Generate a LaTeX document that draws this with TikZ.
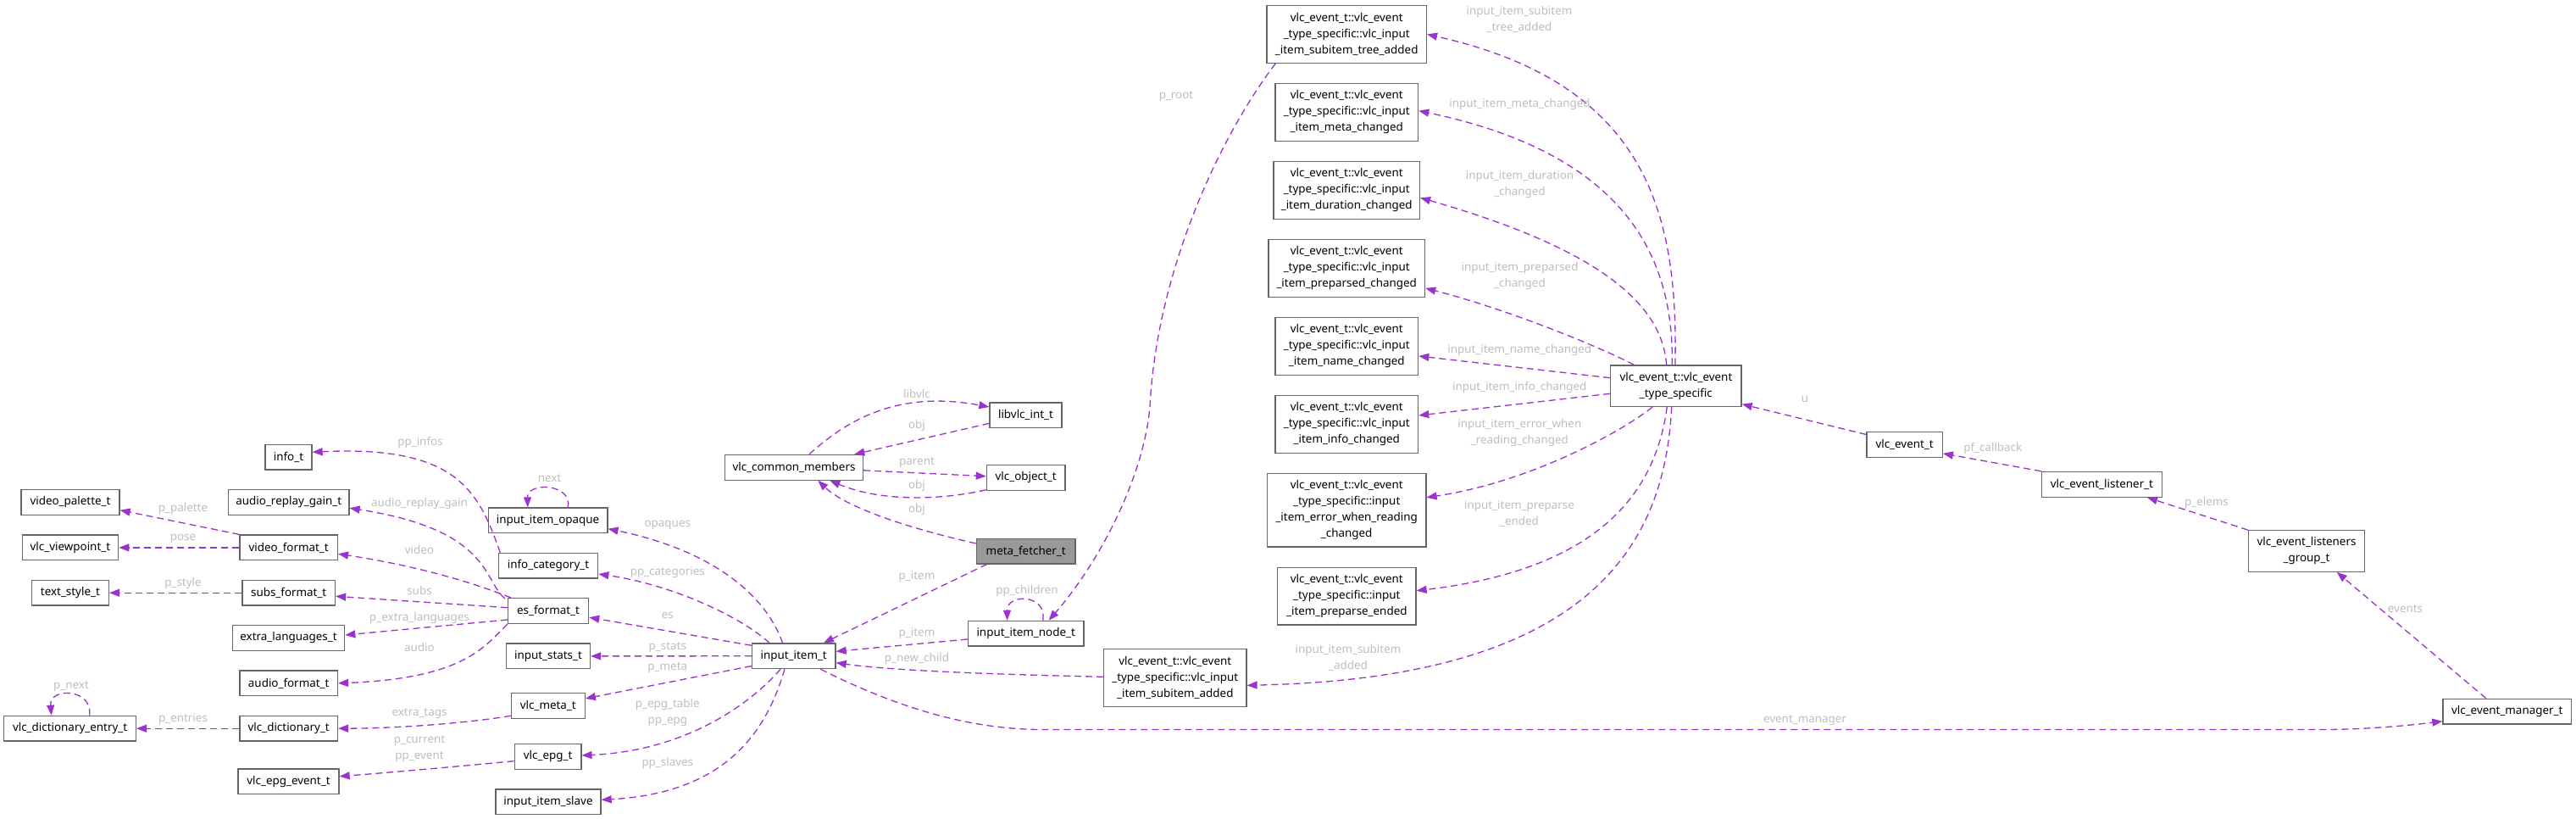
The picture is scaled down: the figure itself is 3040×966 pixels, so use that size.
\documentclass[tikz,border=0pt]{standalone}
\usepackage{fontspec}
\setmainfont{Noto Sans}
\usetikzlibrary{arrows.meta}
\definecolor{edgec}{RGB}{154,50,205}
\definecolor{bordc}{RGB}{102,102,102}
\definecolor{lblc}{RGB}{190,190,190}
\definecolor{hilite}{RGB}{153,153,153}
\tikzset{
  cls/.style={draw=bordc, line width=1.3pt, fill=white, inner sep=0pt, align=center,
    font=\fontsize{13.4}{19}\selectfont, text=black, minimum height=29.7pt},
  two/.style={minimum height=48.4pt},
  three/.style={minimum height=67.7pt},
  four/.style={minimum height=86.3pt},
  lbl/.style={text=lblc, inner sep=0pt, align=center, font=\fontsize{13.4}{19}\selectfont},
  conn/.style={draw=edgec, line width=1.3pt, dash pattern=on 8pt off 5pt,
    -{Triangle[length=12pt,width=9pt]}}
}
\begin{document}
\begin{tikzpicture}[x=1pt,y=-1pt]
\fill[white] (0,0) rectangle (3040,966);
\useasboundingbox (0,0) rectangle (3040,966);

% ---------- nodes ----------
\node[cls, minimum width=55pt] (it_info) at (340.5,539) {info\_t};
\node[cls, minimum width=116pt] (vpal) at (83,592.5) {video\_palette\_t};
\node[cls, minimum width=142.5pt] (arg) at (340.75,592.5) {audio\_replay\_gain\_t};
\node[cls, minimum width=140.6pt] (iio) at (646.6,613.9) {input\_item\_opaque};
\node[cls, minimum width=113.4pt] (vvp) at (82.9,645.9) {vlc\_viewpoint\_t};
\node[cls, minimum width=115.4pt] (vfmt) at (340.7,645.9) {video\_format\_t};
\node[cls, minimum width=117.3pt] (icat) at (647,667.2) {info\_category\_t};
\node[cls, minimum width=91pt] (tsty) at (82.9,699.2) {text\_style\_t};
\node[cls, minimum width=109.5pt] (sfmt) at (340.7,699.2) {subs\_format\_t};
\node[cls, minimum width=95pt] (esf) at (647.1,720.5) {es\_format\_t};
\node[cls, minimum width=132.4pt] (xlang) at (340.5,752.5) {extra\_languages\_t};
\node[cls, minimum width=99pt] (ist) at (647,773.9) {input\_stats\_t};
\node[cls, minimum width=115.4pt] (afmt) at (340.7,805.9) {audio\_format\_t};
\node[cls, minimum width=86.8pt] (vmeta) at (646.8,832.5) {vlc\_meta\_t};
\node[cls, minimum width=155.6pt] (vde) at (82.6,859.2) {vlc\_dictionary\_entry\_t};
\node[cls, minimum width=115.4pt] (vdict) at (340.7,859.2) {vlc\_dictionary\_t};
\node[cls, minimum width=78.6pt] (vepg) at (646.6,892.5) {vlc\_epg\_t};
\node[cls, minimum width=119pt] (vepge) at (340.5,921.9) {vlc\_epg\_event\_t};
\node[cls, minimum width=124pt] (iislave) at (647,945.9) {input\_item\_slave};
\node[cls, minimum width=163pt] (vcm) at (937,551.3) {vlc\_common\_members};
\node[cls, minimum width=85pt] (lvi) at (1210.5,489.7) {libvlc\_int\_t};
\node[cls, minimum width=92.6pt] (vobj) at (1210.7,563.3) {vlc\_object\_t};
\node[cls, fill=hilite, minimum width=116.7pt] (mf) at (1210.7,650) {meta\_fetcher\_t};
\node[cls, minimum width=136.5pt] (iin) at (1210.7,747.2) {input\_item\_node\_t};
\node[cls, minimum width=98.6pt] (ii) at (936.7,773.8) {input\_item\_t};
\node[cls, three, minimum width=168.3pt] (esa) at (1386.8,799.4) {vlc\_event\_t::vlc\_event\\\_type\_specific::vlc\_input\\\_item\_subitem\_added};
\node[cls, three, minimum width=188.5pt] (esta) at (1589.2,40.5) {vlc\_event\_t::vlc\_event\\\_type\_specific::vlc\_input\\\_item\_subitem\_tree\_added};
\node[cls, three, minimum width=168.6pt] (emc) at (1589.3,132.5) {vlc\_event\_t::vlc\_event\\\_type\_specific::vlc\_input\\\_item\_meta\_changed};
\node[cls, three, minimum width=172.4pt] (edc) at (1589.2,224.5) {vlc\_event\_t::vlc\_event\\\_type\_specific::vlc\_input\\\_item\_duration\_changed};
\node[cls, three, minimum width=184.7pt] (epc) at (1589.2,316.5) {vlc\_event\_t::vlc\_event\\\_type\_specific::vlc\_input\\\_item\_preparsed\_changed};
\node[cls, three, minimum width=168.6pt] (enc) at (1589.3,408.5) {vlc\_event\_t::vlc\_event\\\_type\_specific::vlc\_input\\\_item\_name\_changed};
\node[cls, three, minimum width=168.6pt] (eic) at (1589.3,500.3) {vlc\_event\_t::vlc\_event\\\_type\_specific::vlc\_input\\\_item\_info\_changed};
\node[cls, four, minimum width=187.5pt] (eerr) at (1589.2,601.8) {vlc\_event\_t::vlc\_event\\\_type\_specific::input\\\_item\_error\_when\_reading\\\_changed};
\node[cls, three, minimum width=163.4pt] (epe) at (1589.3,703.2) {vlc\_event\_t::vlc\_event\\\_type\_specific::input\\\_item\_preparse\_ended};
\node[cls, two, minimum width=154.3pt] (ets) at (1977.9,455.2) {vlc\_event\_t::vlc\_event\\\_type\_specific};
\node[cls, minimum width=89.3pt] (vev) at (2247.6,524.5) {vlc\_event\_t};
\node[cls, minimum width=141.8pt] (vel) at (2480.4,571.3) {vlc\_event\_listener\_t};
\node[cls, two, minimum width=137pt] (velg) at (2722,650) {vlc\_event\_listeners\\\_group\_t};
\node[cls, minimum width=151.5pt] (vem) at (2958.7,839.1) {vlc\_event\_manager\_t};

% ---------- edges ----------
\draw[conn] ([xshift=2.6pt]icat.north west) .. controls (565,580) and (540,525) .. ([yshift=5.7pt]it_info.east);
\draw[conn] (vfmt.north west) -- ([yshift=-9.2pt]vpal.east);
\draw[conn] ([xshift=-3pt,yshift=-1pt]esf.north west) .. controls (570,685) and (580,625) .. ([yshift=-6.8pt]arg.east);
\draw[conn] (vfmt) -- (vvp);
\draw[conn] ([xshift=4pt]esf.north west) .. controls (540,680) and (470,664) .. ([yshift=-7.4pt]vfmt.east);
\draw[conn] (sfmt) -- (tsty);
\draw[conn] ([yshift=3.8pt]esf.west) -- ([yshift=-4.1pt]sfmt.east);
\draw[conn] ([yshift=-10.5pt]esf.west) -- ([yshift=3.5pt]xlang.east);
\draw[conn] (esf.south west) .. controls (570,765) and (545,800) .. (afmt.east);
\draw[conn] ([xshift=23pt]vde.north) .. controls (110,812) and (58,810) .. ([xshift=-22pt]vde.north);
\draw[conn] (vdict) -- (vde);
\draw[conn] ([yshift=-11.8pt]vmeta.west) .. controls (550,853) and (470,859) .. (vdict.east);
\draw[conn] ([yshift=-5.2pt]vepg.west) .. controls (540,904) and (450,912) .. ([yshift=6.2pt]vepge.east);
\draw[conn] ([xshift=23.7pt]iio.north) .. controls (676,570) and (622,568) .. ([xshift=-23.8pt]iio.north);
\draw[conn] ([xshift=-13.2pt]ii.north) .. controls (905,705) and (845,650) .. ([yshift=-9.8pt]iio.east);
\draw[conn] ([xshift=-28.7pt]ii.north) .. controls (875,728) and (795,690) .. ([yshift=-9.8pt]icat.east);
\draw[conn] ([yshift=-3pt]ii.north west) -- ([yshift=-7.7pt]esf.east);
\draw[conn] (ii) -- (ist);
\draw[conn] ([yshift=-11.8pt]ii.west) -- ([yshift=8.6pt]vmeta.east);
\draw[conn] ([xshift=-15.7pt]ii.south) .. controls (895,820) and (820,885) .. ([yshift=1.5pt]vepg.east);
\draw[conn] ([xshift=-10.7pt]ii.south) .. controls (905,860) and (860,935) .. ([yshift=2.5pt]iislave.east);
\draw[conn] ([xshift=18pt]vcm.north) .. controls (1000,495) and (1060,460) .. ([yshift=9.7pt]lvi.west);
\draw[conn] ([yshift=-9.7pt]lvi.west) -- ([xshift=71.3pt]vcm.north);
\draw[conn] ([yshift=-3.5pt]vcm.east) -- ([yshift=1.6pt]vobj.west);
\draw[conn] ([yshift=1pt]vobj.south west) .. controls (1110,590) and (1040,592) .. ([xshift=42.3pt]vcm.south);
\draw[conn] ([yshift=9pt]mf.west) .. controls (1080,625) and (1000,600) .. ([xshift=28.3pt]vcm.south);
\draw[conn] ([xshift=-46pt]mf.south) -- ([xshift=35.3pt]ii.north);
\draw[conn] ([xshift=20pt]iin.north) .. controls (1236,700) and (1188,700) .. ([xshift=-22pt]iin.north);
\draw[conn] ([yshift=-6.8pt]iin.west) -- ([yshift=5.5pt]ii.east);
\draw[conn] ([yshift=1.1pt]esa.west) .. controls (1200,796) and (1060,792) .. ([yshift=-7.9pt]ii.east);
\draw[conn] ([xshift=31.6pt]ii.south) .. controls (1040,825) and (1130,860.5) .. (1230,860.5) -- (2740,860.5) .. controls (2790,860.5) and (2840,856) .. ([yshift=-11.6pt]vem.west);
\draw[conn] ([xshift=11pt]esta.south west) .. controls (1440,160) and (1365,320) .. (1357,480) .. controls (1350,560) and (1300,660) .. ([xshift=27pt]iin.north);
\draw[conn] ([xshift=-1pt]ets.north) .. controls (1980,260) and (1950,100) .. (esta.east);
\draw[conn] ([xshift=-4.6pt]ets.north) .. controls (1975,320) and (1935,185) .. ([yshift=1.8pt]emc.east);
\draw[conn] ([xshift=-11.2pt]ets.north) .. controls (1962,370) and (1910,300) .. ([yshift=-8.8pt]edc.east);
\draw[conn] ([xshift=-49.6pt]ets.north) .. controls (1890,410) and (1780,365) .. ([yshift=-23.5pt]epc.east);
\draw[conn] ([yshift=9.5pt]ets.west) -- ([yshift=-11.5pt]enc.east);
\draw[conn] ([yshift=-9.1pt]ets.west) -- ([yshift=10.3pt]eic.east);
\draw[conn] ([xshift=-27.9pt]ets.south) .. controls (1920,505) and (1810,568) .. ([yshift=15.1pt]eerr.east);
\draw[conn] ([xshift=-10.6pt]ets.south) .. controls (1955,570) and (1900,670) .. ([yshift=6.5pt]epe.east);
\draw[conn] ([xshift=-5.2pt]ets.south) .. controls (1965,640) and (1880,800) .. ([yshift=-8.9pt]esa.east);
\draw[conn] ([yshift=12pt]vev.west) -- ([yshift=-21.5pt]ets.east);
\draw[conn] (vel.north west) -- ([yshift=-10.4pt]vev.east);
\draw[conn] (velg.north west) -- ([xshift=53.6pt]vel.south);
\draw[conn] ([xshift=-25pt]vem.north) -- ([xshift=35.8pt]velg.south);

% ---------- labels ----------
\node[lbl] (l1) at (496,521.7) {pp\_infos};
\node[lbl] (l2) at (648.5,564) {next};
\node[lbl] (l3) at (216,600) {p\_palette};
\node[lbl] (l4) at (495,593.7) {audio\_replay\_gain};
\node[lbl] (l5) at (216,635) {pose};
\node[lbl] (l6) at (495,648) {video};
\node[lbl] (l7) at (216,688) {p\_style};
\node[lbl] (l8) at (495,696) {subs};
\node[lbl] (l9) at (495,728.7) {p\_extra\_languages};
\node[lbl] (l10) at (495,763) {audio};
\node[lbl] (l11) at (84,810) {p\_next};
\node[lbl] (l12) at (216,848) {p\_entries};
\node[lbl] (l13) at (495,841.7) {extra\_tags};
\node[lbl] (l14) at (495,882.8) {p\_current\\pp\_event};
\node[lbl] (l15) at (1082,464.2) {libvlc};
\node[lbl] (l16) at (1082,501.8) {obj};
\node[lbl] (l17) at (1082,545.4) {parent};
\node[lbl] (l18) at (1082,573.2) {obj};
\node[lbl] (l19) at (1082,601) {obj};
\node[lbl] (l20) at (787.8,619.2) {opaques};
\node[lbl] (l21) at (787.8,675.2) {pp\_categories};
\node[lbl] (l22) at (787.8,725.4) {es};
\node[lbl] (l23) at (787.8,763.3) {p\_stats};
\node[lbl] (l24) at (787.8,788) {p\_meta};
\node[lbl] (l25) at (787.8,840.8) {p\_epg\_table\\pp\_epg};
\node[lbl] (l26) at (787.8,900.5) {pp\_slaves};
\node[lbl] (l27) at (1082,680.1) {p\_item};
\node[lbl] (l28) at (1212,697.5) {pp\_children};
\node[lbl] (l29) at (1082,747.3) {p\_item};
\node[lbl] (l30) at (1082,777.3) {p\_new\_child};
\node[lbl] (l31) at (1388,113.3) {p\_root};
\node[lbl] (l32) at (1793,22.5) {input\_item\_subitem\\\_tree\_added};
\node[lbl] (l33) at (1793.5,123) {input\_item\_meta\_changed};
\node[lbl] (l34) at (1793.5,217.5) {input\_item\_duration\\\_changed};
\node[lbl] (l35) at (1793.5,325.5) {input\_item\_preparsed\\\_changed};
\node[lbl] (l36) at (1793.3,413.5) {input\_item\_name\_changed};
\node[lbl] (l37) at (1793.3,457.3) {input\_item\_info\_changed};
\node[lbl] (l38) at (1793.3,510.5) {input\_item\_error\_when\\\_reading\_changed};
\node[lbl] (l39) at (1793,606.5) {input\_item\_preparse\\\_ended};
\node[lbl] (l40) at (1591,776) {input\_item\_subitem\\\_added};
\node[lbl] (l41) at (2130,471.4) {u};
\node[lbl] (l42) at (2351.8,528.6) {pf\_callback};
\node[lbl] (l43) at (2604,593.4) {p\_elems};
\node[lbl] (l44) at (2838.5,717.7) {events};
\node[lbl] (l45) at (2130,849.7) {event\_manager};
\end{tikzpicture}
\end{document}
